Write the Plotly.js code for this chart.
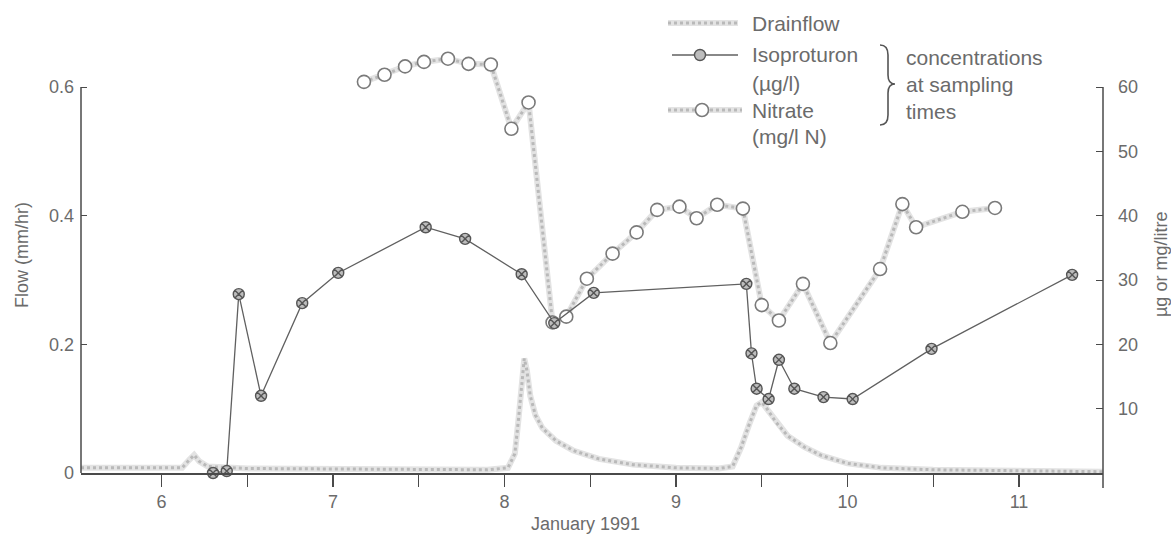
<!DOCTYPE html>
<html><head><meta charset="utf-8">
<script src="https://cdn.plot.ly/plotly-3.0.1.min.js"></script>
<style>html,body{margin:0;padding:0;background:#fff}#chart{width:1171px;height:537px}</style>
</head><body><div id="chart"></div>
<script>
// Drainflow (mm/hr) against day of January 1991
const flowDays = [5.53,5.8,6.0,6.12,6.16,6.19,6.22,6.27,6.5,7.0,7.5,7.9,8.02,8.06,8.08,8.10,8.115,8.13,8.15,8.18,8.22,8.3,8.4,8.55,8.75,9.0,9.25,9.33,9.38,9.43,9.47,9.5,9.53,9.58,9.65,9.75,9.85,10.0,10.2,10.5,11.0,11.49];
const flowValues = [0.008,0.008,0.007,0.008,0.02,0.028,0.018,0.01,0.007,0.006,0.005,0.005,0.008,0.03,0.08,0.14,0.178,0.16,0.12,0.09,0.07,0.05,0.035,0.022,0.013,0.008,0.007,0.01,0.04,0.078,0.105,0.11,0.1,0.08,0.058,0.04,0.027,0.015,0.008,0.005,0.003,0.002];

// Isoproturon (µg/l) at sampling times
const isoDays = [6.30,6.38,6.45,6.58,6.82,7.03,7.54,7.77,8.10,8.29,8.52,9.41,9.44,9.47,9.54,9.60,9.69,9.86,10.03,10.49,11.31];
const isoValues = [0.0,0.3,27.8,12.0,26.4,31.1,38.2,36.4,30.9,23.3,28.0,29.4,18.6,13.1,11.5,17.6,13.1,11.8,11.5,19.3,30.8];

// Nitrate (mg/l N) at sampling times
const nitrateDays = [7.18,7.30,7.42,7.53,7.67,7.79,7.92,8.04,8.14,8.28,8.36,8.48,8.63,8.77,8.89,9.02,9.12,9.24,9.39,9.50,9.60,9.74,9.90,10.19,10.32,10.40,10.67,10.86];
const nitrateValues = [60.8,61.9,63.2,63.9,64.4,63.6,63.5,53.5,57.6,23.4,24.3,30.2,34.1,37.4,40.9,41.4,39.6,41.7,41.1,26.1,23.7,29.4,20.2,31.7,41.8,38.2,40.6,41.2];

const xTickValues = [6,7,8,9,10,11];
const xTickLabels = ['6','7','8','9','10','11'];
const flowTicks = [0,0.2,0.4,0.6];
const flowTickLabels = ['0','0.2','0.4','0.6'];
const concTicks = [10,20,30,40,50,60];
const flowMax = 0.6, concMax = 60;

const W = 1171, H = 537, ML = 81, MR = 68, MT = 40, MB = 64;
const PW = W - ML - MR, PH = H - MT - MB;
const yZero = H - MB, yTopTick = 87;
const flowTop = flowMax * (yZero - MT) / (yZero - yTopTick);
const concTop = concMax * (yZero - MT) / (yZero - yTopTick);
const px = v => (v - ML) / PW;
const py = v => (H - MB - v) / PH;

const stippleBase = '#e3e3e3', stippleDot = '#b9b9b9';
const txt = '#6b6b6b';
const axisCol = '#4a4a4a';

const traces = [
  {x: flowDays, y: flowValues, type: 'scatter', mode: 'lines', line: {color: stippleBase, width: 6}, hoverinfo: 'skip'},
  {x: flowDays, y: flowValues, type: 'scatter', mode: 'lines', line: {color: stippleDot, width: 3, dash: 'dot'}, name: 'Drainflow'},
  {x: nitrateDays, y: nitrateValues, yaxis: 'y2', type: 'scatter', mode: 'lines', line: {color: stippleBase, width: 6}, hoverinfo: 'skip'},
  {x: nitrateDays, y: nitrateValues, yaxis: 'y2', type: 'scatter', mode: 'lines+markers', line: {color: stippleDot, width: 3, dash: 'dot'},
   marker: {symbol: 'circle', size: 13, color: '#ffffff', line: {color: '#7a7a7a', width: 1.6}}, name: 'Nitrate', cliponaxis: false},
  {x: isoDays, y: isoValues, yaxis: 'y2', type: 'scatter', mode: 'lines+markers', line: {color: '#606060', width: 1.3},
   marker: {symbol: 'circle-x', size: 11, color: '#bdbdbd', line: {color: '#555555', width: 1.4}}, name: 'Isoproturon', cliponaxis: false}
];

const shapes = [];
const annotations = [];
// axis lines (left stops at 0.6, right runs a little below zero)
shapes.push({type: 'line', xref: 'paper', yref: 'y', x0: 0, x1: 0, y0: 0, y1: flowMax, line: {color: axisCol, width: 1.5}});
shapes.push({type: 'line', xref: 'paper', yref: 'y2', x0: 1, x1: 1, y0: 0, y1: concMax, line: {color: axisCol, width: 1.5}});
shapes.push({type: 'line', xref: 'paper', yref: 'paper', x0: 1, x1: 1, y0: 0, y1: py(488), line: {color: axisCol, width: 1.5}});
// legend samples
shapes.push({type: 'line', xref: 'paper', yref: 'paper', x0: px(668), x1: px(738), y0: py(23), y1: py(23), line: {color: stippleBase, width: 6}});
shapes.push({type: 'line', xref: 'paper', yref: 'paper', x0: px(668), x1: px(738), y0: py(23), y1: py(23), line: {color: stippleDot, width: 3, dash: 'dot'}});
shapes.push({type: 'line', xref: 'paper', yref: 'paper', x0: px(672), x1: px(738), y0: py(55), y1: py(55), line: {color: '#606060', width: 1.3}});
shapes.push({type: 'circle', xref: 'paper', yref: 'paper', x0: px(694.5), x1: px(705.5), y0: py(60.5), y1: py(49.5), fillcolor: '#bdbdbd', line: {color: '#555', width: 1.4}});
shapes.push({type: 'line', xref: 'paper', yref: 'paper', x0: px(668), x1: px(742), y0: py(110), y1: py(110), line: {color: stippleBase, width: 6}});
shapes.push({type: 'line', xref: 'paper', yref: 'paper', x0: px(668), x1: px(742), y0: py(110), y1: py(110), line: {color: stippleDot, width: 3, dash: 'dot'}});
shapes.push({type: 'circle', xref: 'paper', yref: 'paper', x0: px(695.5), x1: px(708.5), y0: py(116.5), y1: py(103.5), fillcolor: '#fff', line: {color: '#7a7a7a', width: 1.6}});
// brace
const P = (a, b) => px(a).toFixed(5) + ',' + py(b).toFixed(5);
shapes.push({type: 'path', xref: 'paper', yref: 'paper', line: {color: '#555', width: 1.6},
  path: 'M' + P(880,45) + ' Q' + P(888,45) + ' ' + P(888,55) + ' L' + P(888,75) + ' Q' + P(888,84) + ' ' + P(895,84) +
        ' Q' + P(888,84) + ' ' + P(888,93) + ' L' + P(888,115) + ' Q' + P(888,125) + ' ' + P(880,125)});

const lf = {family: 'Liberation Sans, Arial, sans-serif', size: 21, color: txt};
const addText = (t, x, y) => annotations.push({text: t, xref: 'paper', yref: 'paper', x: px(x), y: py(y), xanchor: 'left', yanchor: 'middle', showarrow: false, font: lf});
addText('Drainflow', 750, 23);
addText('Isoproturon', 750, 55);
addText('(µg/l)', 750, 83);
addText('Nitrate', 750, 110);
addText('(mg/l N)', 750, 137);
addText('concentrations', 904, 57);
addText('at sampling', 904, 84);
addText('times', 904, 111);
const af = {family: 'Liberation Sans, Arial, sans-serif', size: 18, color: txt};
annotations.push({text: 'January 1991', xref: 'paper', yref: 'paper', x: px(585), y: py(524), xanchor: 'center', yanchor: 'middle', showarrow: false, font: af});
annotations.push({text: 'Flow (mm/hr)', xref: 'paper', yref: 'paper', x: px(22), y: py(255), xanchor: 'center', yanchor: 'middle', textangle: -90, showarrow: false, font: af});
annotations.push({text: 'µg or mg/litre', xref: 'paper', yref: 'paper', x: px(1161), y: py(265), xanchor: 'center', yanchor: 'middle', textangle: -90, showarrow: false, font: af});

const tf = {family: 'Liberation Sans, Arial, sans-serif', size: 18, color: txt};
const layout = {
  width: W, height: H,
  margin: {l: ML, r: MR, t: MT, b: MB},
  paper_bgcolor: '#fff', plot_bgcolor: '#fff',
  showlegend: false,
  font: tf,
  xaxis: {range: [5.53, 11.49], tickvals: xTickValues, ticktext: xTickLabels, ticks: 'outside', ticklen: 5, tickcolor: axisCol, tickwidth: 1.3,
    ticklabelstandoff: 7,
    minor: {dtick: 0.5, tick0: 0, ticks: 'outside', ticklen: 12, tickcolor: axisCol, tickwidth: 1.3, showgrid: false},
    showline: true, linecolor: axisCol, linewidth: 1.5, showgrid: false, zeroline: false, tickfont: tf},
  yaxis: {range: [0, flowTop], tickvals: flowTicks, ticktext: flowTickLabels, ticks: 'inside', ticklen: 6, tickcolor: axisCol,
    ticklabelstandoff: 6, showline: false, showgrid: false, zeroline: false, tickfont: tf},
  yaxis2: {range: [0, concTop], overlaying: 'y', side: 'right', tickvals: concTicks, ticks: 'inside', ticklen: 7, tickcolor: axisCol,
    ticklabelstandoff: 14, showline: false, showgrid: false, zeroline: false, tickfont: tf},
  shapes: shapes,
  annotations: annotations
};
Plotly.newPlot('chart', traces, layout, {displayModeBar: false, staticPlot: true});
</script>
</body></html>
